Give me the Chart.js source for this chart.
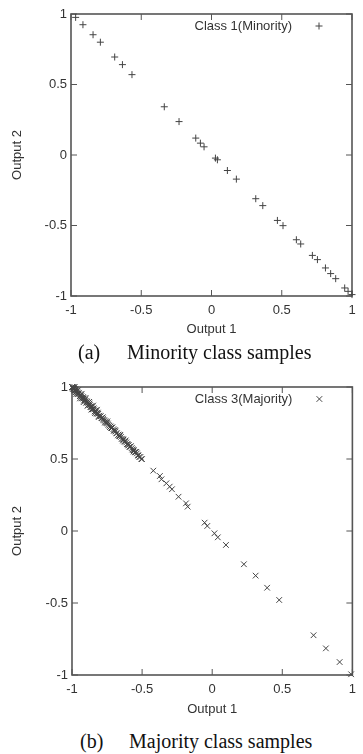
<!DOCTYPE html>
<html>
<head>
<meta charset="utf-8">
<script src="https://cdn.jsdelivr.net/npm/chart.js@4.4.1/dist/chart.umd.min.js"></script>
<style>
  body { margin: 0; background: #fff; width: 363px; height: 754px; position: relative; overflow: hidden; }
  canvas { position: absolute; left: 0; }
  .cap { position: absolute; font-family: "Liberation Serif", "Times New Roman", serif; font-size: 20px; color: #111; white-space: nowrap; }
</style>
</head>
<body>
<canvas id="chartA" width="363" height="345" style="top:0"></canvas>
<canvas id="chartB" width="363" height="350" style="top:373px"></canvas>
<div class="cap" style="left:78px; top:341px">(a)</div>
<div class="cap" style="left:127px; top:341px">Minority class samples</div>
<div class="cap" style="left:80px; top:730px">(b)</div>
<div class="cap" style="left:129px; top:730px">Majority class samples</div>
<script>
// tick values (both axes, both plots)
const tickValues = [-1, -0.5, 0, 0.5, 1];

// (a) Class 1 (Minority)
const minorityX = [-0.967, -0.915, -0.843, -0.791, -0.689, -0.634, -0.566, -0.336, -0.231, -0.112,
  -0.079, -0.053, 0.028, 0.042, 0.113, 0.177, 0.315, 0.365, 0.469, 0.509,
  0.604, 0.635, 0.718, 0.754, 0.811, 0.848, 0.884, 0.948, 0.972, 1.0];
const minorityY = [0.976, 0.924, 0.853, 0.8, 0.695, 0.641, 0.57, 0.342, 0.237, 0.12,
  0.084, 0.058, -0.022, -0.034, -0.11, -0.171, -0.31, -0.359, -0.464, -0.501,
  -0.601, -0.631, -0.712, -0.742, -0.801, -0.841, -0.877, -0.943, -0.967, -0.99];

// (b) Class 3 (Majority)
const majorityX = [-1, -0.995, -0.99, -0.985, -0.98, -0.975, -0.97, -0.962, -0.955, -0.948,
  -0.94, -0.933, -0.925, -0.918, -0.91, -0.902, -0.895, -0.887, -0.88, -0.872,
  -0.865, -0.857, -0.85, -0.842, -0.835, -0.828, -0.82, -0.812, -0.803, -0.795,
  -0.786, -0.778, -0.77, -0.761, -0.752, -0.744, -0.733, -0.724, -0.716, -0.705,
  -0.697, -0.689, -0.68, -0.668, -0.66, -0.651, -0.64, -0.633, -0.622, -0.613,
  -0.604, -0.596, -0.585, -0.574, -0.566, -0.559, -0.548, -0.537, -0.526, -0.512,
  -0.501, -0.42, -0.373, -0.362, -0.327, -0.303, -0.287, -0.24, -0.187, -0.175,
  -0.054, -0.035, 0.016, 0.04, 0.098, 0.226, 0.31, 0.392, 0.478, 0.723,
  0.811, 0.909, 0.991];
const majorityY = [1, 0.996, 0.99, 0.987, 0.979, 0.976, 0.968, 0.963, 0.954, 0.95,
  0.938, 0.935, 0.924, 0.92, 0.908, 0.904, 0.893, 0.889, 0.878, 0.874,
  0.863, 0.859, 0.848, 0.844, 0.833, 0.83, 0.818, 0.814, 0.801, 0.797,
  0.784, 0.78, 0.768, 0.763, 0.75, 0.746, 0.731, 0.726, 0.714, 0.707,
  0.695, 0.691, 0.678, 0.67, 0.658, 0.653, 0.638, 0.635, 0.62, 0.615,
  0.602, 0.598, 0.583, 0.576, 0.564, 0.561, 0.546, 0.539, 0.524, 0.514,
  0.499, 0.419, 0.382, 0.359, 0.331, 0.308, 0.29, 0.238, 0.192, 0.169,
  0.058, 0.035, -0.016, -0.044, -0.097, -0.231, -0.31, -0.394, -0.479, -0.724,
  -0.815, -0.91, -0.995];
// the crowded upper-left run, read as a band
const majorityDenseX = [-0.998, -0.993, -0.988, -0.983, -0.977, -0.972, -0.966, -0.959, -0.951, -0.944,
  -0.937, -0.929, -0.921, -0.914, -0.906, -0.899, -0.891, -0.884, -0.876, -0.868,
  -0.861, -0.853, -0.846, -0.838, -0.831, -0.824, -0.816, -0.808,
  -0.79, -0.775, -0.758, -0.74, -0.721, -0.702, -0.684, -0.663, -0.645, -0.627,
  -0.608, -0.59, -0.57, -0.552, -0.531, -0.505,
  -0.996, -0.981, -0.969, -0.957, -0.943, -0.931, -0.917, -0.903, -0.889, -0.877,
  -0.862, -0.849, -0.836, -0.822, -0.81, -0.781, -0.765, -0.748, -0.729, -0.712,
  -0.693, -0.672, -0.655, -0.636, -0.617, -0.598, -0.58, -0.561, -0.541, -0.52];
const majorityDenseY = [0.999, 0.987, 0.998, 0.976, 0.984, 0.964, 0.975, 0.951, 0.96, 0.936,
  0.946, 0.921, 0.93, 0.906, 0.915, 0.891, 0.9, 0.876, 0.885, 0.86,
  0.868, 0.845, 0.852, 0.83, 0.837, 0.816, 0.822, 0.8,
  0.784, 0.772, 0.752, 0.737, 0.716, 0.698, 0.679, 0.66, 0.641, 0.622,
  0.603, 0.585, 0.566, 0.548, 0.527, 0.5,
  1.0, 0.999, 0.952, 0.978, 0.921, 0.953, 0.895, 0.924, 0.869, 0.897,
  0.843, 0.871, 0.818, 0.842, 0.791, 0.79, 0.754, 0.761, 0.722, 0.721,
  0.7, 0.664, 0.668, 0.628, 0.629, 0.594, 0.589, 0.552, 0.55, 0.514];

Chart.defaults.font.family = "'Liberation Sans', Arial, sans-serif";
Chart.defaults.font.size = 13;
Chart.defaults.color = "#333";

function pairs(xs, ys) {
  return xs.map((x, i) => ({ x: x, y: ys[i] }));
}

// gnuplot style box with ticks pointing inwards on all four sides
const framePlugin = {
  id: "frame",
  beforeDatasetsDraw(chart) {
    const ctx = chart.ctx;
    const a = chart.chartArea;
    const sx = chart.scales.x, sy = chart.scales.y;
    ctx.save();
    ctx.strokeStyle = "#555";
    ctx.lineWidth = 1;
    ctx.beginPath();
    sx.ticks.forEach(t => {
      const p = sx.getPixelForValue(t.value);
      ctx.moveTo(p, a.bottom); ctx.lineTo(p, a.bottom - 6);
      ctx.moveTo(p, a.top); ctx.lineTo(p, a.top + 6);
    });
    sy.ticks.forEach(t => {
      const p = sy.getPixelForValue(t.value);
      ctx.moveTo(a.left, p); ctx.lineTo(a.left + 6, p);
      ctx.moveTo(a.right, p); ctx.lineTo(a.right - 6, p);
    });
    ctx.stroke();
    ctx.lineWidth = 1.6;
    ctx.strokeRect(a.left, a.top, a.right - a.left, a.bottom - a.top);
    ctx.restore();
  }
};

// key in the top right corner: label text, then the marker sample
const keyPlugin = {
  id: "key",
  afterDatasetsDraw(chart) {
    const ctx = chart.ctx;
    const a = chart.chartArea;
    const ds = chart.data.datasets[0];
    const mx = a.right - 33, my = a.top + 12;
    ctx.save();
    ctx.font = "13px 'Liberation Sans', Arial, sans-serif";
    ctx.fillStyle = "#333";
    ctx.textAlign = "right";
    ctx.textBaseline = "middle";
    ctx.fillText(ds.label, mx - 27, my);
    ctx.strokeStyle = ds.borderColor;
    ctx.fillStyle = ds.borderColor;
    Chart.helpers.drawPoint(ctx, { pointStyle: ds.pointStyle, radius: ds.pointRadius, borderWidth: 1, rotation: 0 }, mx, my);
    ctx.restore();
  }
};

function makeChart(id, label, data, style, radius, pad, xHeight, yWidth, xTitlePad) {
  return new Chart(document.getElementById(id), {
    type: "scatter",
    data: {
      datasets: [{
        label: label,
        data: data,
        pointStyle: style,
        pointRadius: radius,
        pointHoverRadius: radius,
        borderColor: "#444",
        backgroundColor: "#444",
        pointBorderWidth: 1,
        clip: false
      }]
    },
    options: {
      responsive: false,
      animation: false,
      events: [],
      layout: { padding: pad },
      plugins: {
        tooltip: { enabled: false },
        legend: { display: false }
      },
      scales: {
        x: {
          type: "linear",
          min: -1, max: 1,
          afterBuildTicks: s => { s.ticks = tickValues.map(v => ({ value: v })); },
          afterFit: s => { s.height = xHeight; },
          grid: { display: false, drawTicks: false },
          border: { display: false },
          ticks: { padding: 7, color: "#333", callback: v => String(v) },
          title: { display: true, text: "Output 1", color: "#333", padding: { top: 0, bottom: xTitlePad } }
        },
        y: {
          type: "linear",
          min: -1, max: 1,
          afterBuildTicks: s => { s.ticks = tickValues.map(v => ({ value: v })); },
          afterFit: s => { s.width = yWidth; },
          grid: { display: false, drawTicks: false },
          border: { display: false },
          ticks: { padding: 4, color: "#333", callback: v => String(v) },
          title: { display: true, text: "Output 2", color: "#333", padding: { top: 10, bottom: 0 } }
        }
      }
    },
    plugins: [framePlugin, keyPlugin]
  });
}

makeChart("chartA", "Class 1(Minority)", pairs(minorityX, minorityY), "cross", 3.5,
  { left: 0, top: 14, right: 11, bottom: 0 }, 49, 71, 8);
makeChart("chartB", "Class 3(Majority)",
  pairs(majorityX, majorityY).concat(pairs(majorityDenseX, majorityDenseY)), "crossRot", 4,
  { left: 0, top: 14, right: 5, bottom: 0 }, 48, 72, 6);
</script>
</body>
</html>
